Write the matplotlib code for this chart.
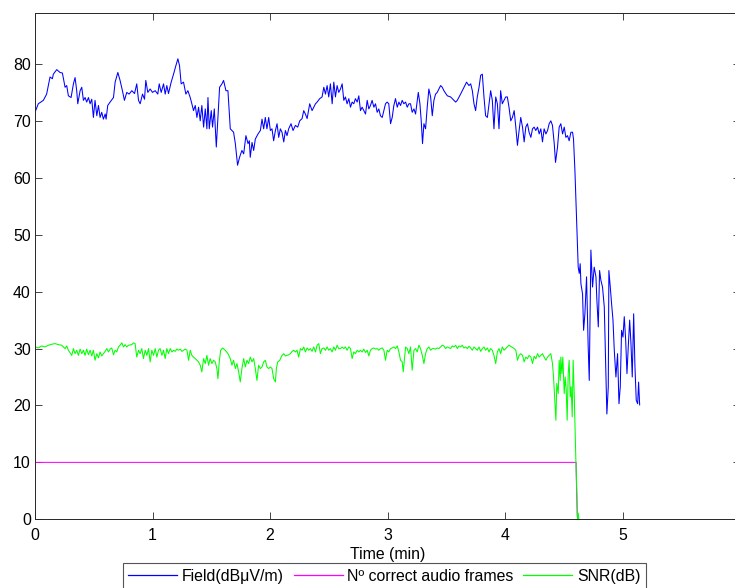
import matplotlib
matplotlib.use("Agg")
import matplotlib.pyplot as plt

# ---- data ----
field_points = [
    (0.000,71.5),(0.028,73.0),(0.071,73.6),(0.099,74.7),(0.128,77.7),(0.148,77.4),(0.156,78.2),(0.185,79.0),
    (0.213,78.5),(0.233,78.4),(0.256,75.9),(0.270,76.2),(0.284,74.4),(0.307,74.1),(0.327,76.5),(0.341,77.6),
    (0.355,75.3),(0.364,73.0),(0.384,75.3),(0.398,75.9),(0.412,73.6),(0.426,74.1),(0.440,73.3),(0.455,74.1),
    (0.469,73.0),(0.483,73.8),(0.497,70.6),(0.511,73.6),(0.526,70.9),(0.540,72.7),(0.554,70.6),(0.568,71.5),
    (0.582,70.3),(0.597,71.2),(0.605,70.3),(0.619,72.7),(0.639,73.3),(0.668,74.1),(0.682,76.8),(0.705,78.5),
    (0.724,77.1),(0.744,75.3),(0.761,73.6),(0.781,75.0),(0.801,74.7),(0.824,75.3),(0.847,74.8),(0.866,76.5),
    (0.881,73.6),(0.895,73.0),(0.915,74.7),(0.932,73.8),(0.943,77.1),(0.960,75.0),(0.980,75.6),(1.000,75.0),
    (1.023,75.3),(1.045,74.7),(1.057,76.5),(1.074,75.0),(1.094,76.5),(1.108,74.7),(1.122,76.2),(1.136,74.8),
    (1.159,76.8),(1.179,78.2),(1.199,79.7),(1.216,80.9),(1.230,79.7),(1.244,76.5),(1.264,76.8),(1.284,74.7),
    (1.301,75.3),(1.321,74.1),(1.335,73.0),(1.349,71.8),(1.364,72.7),(1.378,70.6),(1.392,72.4),(1.406,70.0),
    (1.420,72.7),(1.435,68.9),(1.449,72.1),(1.463,68.6),(1.472,74.1),(1.483,68.6),(1.500,71.8),(1.511,68.9),
    (1.526,72.1),(1.543,65.4),(1.557,70.6),(1.571,75.9),(1.591,76.5),(1.605,77.1),(1.625,75.3),(1.642,75.3),
    (1.662,68.6),(1.690,68.0),(1.705,66.0),(1.724,62.2),(1.741,63.6),(1.761,64.8),(1.776,64.2),(1.795,67.4),
    (1.813,66.0),(1.824,66.5),(1.832,63.6),(1.847,66.2),(1.861,64.8),(1.875,66.8),(1.898,67.7),(1.918,68.3),
    (1.932,70.3),(1.946,68.6),(1.960,70.6),(1.974,68.6),(1.989,70.6),
    (2.003,68.3),(2.017,68.6),(2.031,66.5),(2.046,68.3),(2.060,69.5),(2.074,67.1),(2.088,68.6),(2.102,68.0),
    (2.117,66.3),(2.131,68.3),(2.145,67.4),(2.159,68.6),(2.179,69.5),(2.196,68.3),(2.216,69.2),(2.236,68.9),
    (2.253,70.0),(2.273,70.4),(2.287,71.8),(2.301,71.2),(2.316,70.4),(2.338,73.0),(2.358,71.8),(2.372,72.4),
    (2.387,73.0),(2.401,73.3),(2.423,73.9),(2.443,74.2),(2.458,75.9),(2.472,74.7),(2.486,76.2),(2.500,74.2),
    (2.514,76.5),(2.529,73.0),(2.543,76.8),(2.557,74.2),(2.571,76.2),(2.585,75.0),(2.600,75.6),(2.614,76.5),
    (2.628,73.6),(2.642,74.2),(2.656,73.0),(2.671,73.9),(2.685,72.4),(2.699,73.3),(2.713,73.0),(2.727,73.9),
    (2.742,73.3),(2.756,74.4),(2.770,71.8),(2.784,72.4),(2.798,71.8),(2.813,71.2),(2.827,73.6),(2.841,72.1),
    (2.855,72.7),(2.869,73.6),(2.884,72.4),(2.898,73.0),(2.912,71.5),(2.926,72.1),(2.940,70.9),(2.955,70.6),
    (2.969,71.8),(2.983,73.0),(2.997,73.3),(3.011,73.0),(3.026,69.5),(3.040,70.6),(3.054,72.7),(3.068,73.9),
    (3.083,72.4),(3.097,73.3),(3.111,72.7),(3.125,73.6),(3.139,73.0),(3.154,73.3),(3.168,72.4),(3.182,73.0),
    (3.196,73.0),(3.210,71.5),(3.225,72.1),(3.239,71.2),(3.253,73.6),(3.262,75.0),(3.276,73.0),(3.287,70.0),
    (3.298,66.0),(3.310,69.5),(3.324,68.6),(3.338,72.4),(3.352,75.6),(3.367,74.2),(3.381,70.9),(3.395,73.6),
    (3.409,74.7),(3.423,75.0),(3.438,75.6),(3.452,76.2),(3.466,75.9),(3.480,75.3),(3.509,74.4),(3.537,74.2),
    (3.566,73.6),(3.580,73.3),(3.594,73.6),(3.622,74.7),(3.651,75.9),(3.673,76.8),(3.693,76.2),(3.708,76.5),
    (3.722,75.3),(3.736,73.0),(3.750,71.8),(3.764,74.2),(3.779,75.9),(3.793,78.0),(3.807,78.2),(3.821,74.2),
    (3.835,70.9),(3.850,70.6),(3.864,73.0),(3.878,75.3),(3.892,73.6),(3.906,68.6),(3.921,74.2),(3.935,73.0),
    (3.949,68.6),(3.963,75.3),(3.977,73.0),(3.992,73.6),(4.006,74.2),(4.020,74.2),(4.034,72.4),
    (4.049,70.0),(4.063,70.6),(4.078,71.8),(4.092,68.9),(4.106,65.7),(4.120,68.3),(4.134,70.6),(4.149,68.9),
    (4.163,66.3),(4.177,68.9),(4.191,69.5),(4.205,68.0),(4.220,67.1),(4.234,68.6),(4.248,68.9),(4.262,68.3),
    (4.277,68.9),(4.291,67.7),(4.305,68.6),(4.319,66.3),(4.333,68.6),(4.348,67.7),(4.362,68.3),(4.376,69.5),
    (4.390,70.0),(4.404,69.2),(4.419,66.0),(4.430,62.7),(4.447,65.4),(4.461,68.9),(4.475,69.5),(4.490,67.7),
    (4.504,68.9),(4.518,67.1),(4.532,67.4),(4.546,66.5),(4.561,68.0),(4.575,68.0),(4.583,66.8),(4.595,61.3),
    (4.603,56.6),(4.612,51.3),(4.623,44.3),(4.632,43.2),(4.640,44.9),(4.646,41.4),(4.660,39.6),(4.669,33.2),
    (4.680,36.1),(4.694,42.6),(4.708,30.3),(4.717,24.4),(4.731,47.3),(4.745,40.8),(4.759,44.3),(4.774,42.6),
    (4.782,38.5),(4.794,33.8),(4.805,43.7),(4.816,42.0),(4.830,40.8),(4.845,37.3),(4.859,25.0),(4.867,18.5),
    (4.879,23.3),(4.884,43.7),(4.896,40.8),(4.907,37.9),(4.919,35.0),(4.930,29.7),(4.944,25.0),(4.958,29.1),
    (4.970,20.3),(4.981,23.3),(4.992,33.2),(5.004,32.0),(5.015,35.6),(5.027,31.5),(5.038,25.6),(5.049,30.3),
    (5.061,35.0),(5.072,30.9),(5.083,25.0),(5.095,36.1),(5.106,26.8),(5.117,20.9),(5.129,20.3),(5.137,24.1),
    (5.146,20.1),
]

snr_points = [
    (0.000,30.28),(0.028,30.11),(0.057,30.46),(0.085,30.28),(0.114,30.58),(0.142,30.75),(0.170,30.87),(0.199,30.69),
    (0.227,30.58),(0.256,29.99),(0.270,30.46),(0.284,29.7),(0.313,28.8),(0.327,29.99),(0.341,29.1),(0.355,29.7),
    (0.369,28.8),(0.384,29.9),(0.398,29.1),(0.412,29.7),(0.426,28.8),(0.440,29.9),(0.455,28.9),(0.469,29.7),
    (0.483,28.7),(0.497,29.7),(0.511,27.94),(0.526,29.1),(0.540,28.35),(0.554,29.4),(0.568,28.7),(0.582,29.1),
    (0.597,29.5),(0.611,29.99),(0.625,29.4),(0.639,29.9),(0.653,30.1),(0.668,28.9),(0.682,29.7),(0.696,29.4),
    (0.710,30.28),(0.724,30.58),(0.739,31.0),(0.753,30.28),(0.767,30.69),(0.781,30.28),(0.795,30.58),(0.824,30.69),
    (0.838,31.0),(0.852,30.87),(0.866,28.5),(0.881,29.7),(0.895,29.1),(0.909,29.99),(0.923,28.24),(0.938,29.7),
    (0.952,28.8),(0.966,29.99),(0.980,27.65),(0.994,29.7),(1.009,28.8),(1.023,29.99),(1.037,28.5),(1.051,29.7),
    (1.065,29.99),(1.080,28.8),(1.094,29.7),(1.108,28.24),(1.122,29.99),(1.136,29.1),(1.151,29.99),(1.165,29.4),
    (1.179,29.7),(1.193,29.5),(1.207,29.9),(1.222,29.7),(1.236,29.9),(1.250,29.5),(1.264,29.7),(1.278,29.9),
    (1.293,29.7),(1.307,27.94),(1.321,29.7),(1.335,28.8),(1.349,28.5),(1.364,28.24),(1.378,27.94),(1.392,27.65),
    (1.406,27.07),(1.420,25.9),(1.435,28.24),(1.449,27.36),(1.463,28.8),(1.477,27.07),(1.491,28.24),(1.506,27.36),
    (1.520,27.94),(1.534,27.65),(1.548,26.48),(1.557,24.7),(1.568,27.65),(1.580,29.7),(1.597,30.1),(1.619,29.7),
    (1.642,29.1),(1.662,28.24),(1.676,27.07),(1.690,27.94),(1.705,26.48),(1.719,27.36),(1.733,25.9),(1.747,24.14),
    (1.761,26.48),(1.776,28.24),(1.790,26.77),(1.804,27.94),(1.818,27.36),(1.832,28.5),(1.847,27.65),(1.861,28.24),
    (1.875,26.48),(1.889,24.4),(1.903,27.07),(1.918,26.48),(1.932,26.77),(1.946,27.65),(1.960,27.94),(1.974,26.77),
    (1.989,26.48),
    (2.003,26.77),(2.017,26.48),(2.031,24.7),(2.046,24.14),(2.054,26.48),(2.066,27.65),(2.083,27.94),(2.102,28.8),
    (2.117,29.1),(2.131,28.7),(2.145,28.8),(2.159,28.9),(2.173,29.1),(2.188,29.5),(2.202,29.7),(2.216,29.4),
    (2.230,29.7),(2.244,28.5),(2.259,29.99),(2.273,29.7),(2.287,30.28),(2.301,29.4),(2.316,30.1),(2.330,29.7),
    (2.344,29.99),(2.358,29.5),(2.372,30.28),(2.387,29.4),(2.401,30.58),(2.415,30.87),(2.429,29.1),(2.443,29.99),
    (2.458,30.1),(2.472,29.7),(2.486,30.28),(2.500,29.7),(2.514,29.99),(2.529,29.4),(2.543,30.28),(2.557,29.7),
    (2.571,30.58),(2.585,29.99),(2.600,29.99),(2.614,30.28),(2.628,29.99),(2.642,30.28),(2.656,29.7),(2.671,30.28),
    (2.685,29.99),(2.699,28.24),(2.713,29.4),(2.727,29.1),(2.742,29.7),(2.756,29.4),(2.770,29.7),(2.784,29.4),
    (2.798,29.9),(2.813,29.3),(2.827,29.7),(2.841,28.7),(2.855,29.7),(2.869,29.99),(2.884,30.1),(2.898,29.9),
    (2.912,29.99),(2.926,29.7),(2.940,29.99),(2.955,30.1),(2.969,29.7),(2.983,27.94),(2.997,29.7),(3.011,29.4),
    (3.026,29.99),(3.040,30.1),(3.054,30.28),(3.068,29.99),(3.083,30.46),(3.097,29.4),(3.111,27.94),(3.125,27.65),
    (3.134,25.9),(3.145,28.24),(3.154,30.28),(3.168,29.99),(3.182,29.1),(3.196,30.28),(3.210,26.19),(3.225,29.7),
    (3.239,29.99),(3.253,29.4),(3.267,30.58),(3.281,29.99),(3.296,28.8),(3.310,27.36),(3.324,29.1),(3.338,29.99),
    (3.352,30.28),(3.367,29.7),(3.381,29.99),(3.395,29.99),(3.409,29.9),(3.423,30.1),(3.438,29.99),(3.452,30.28),
    (3.466,30.58),(3.480,30.46),(3.494,29.99),(3.509,30.28),(3.537,29.99),(3.551,30.46),(3.566,30.28),(3.580,30.58),
    (3.594,29.99),(3.608,30.46),(3.622,30.28),(3.636,30.58),(3.651,30.1),(3.665,30.28),(3.679,29.99),(3.693,30.4),
    (3.708,30.1),(3.722,29.7),(3.736,30.28),(3.750,29.99),(3.764,29.7),(3.779,30.28),(3.793,29.5),(3.807,29.99),
    (3.821,30.28),(3.835,29.7),(3.850,30.1),(3.864,29.4),(3.878,29.99),(3.892,29.7),(3.906,28.8),(3.921,27.36),
    (3.935,29.4),(3.949,29.99),(3.963,29.1),(3.977,30.28),(3.992,29.7),(4.006,29.99),(4.020,30.28),(4.034,30.58),
    (4.078,30.0),(4.092,29.7),(4.106,27.95),(4.120,28.8),(4.134,29.1),(4.149,28.8),(4.163,27.66),(4.177,28.5),
    (4.191,28.2),(4.205,28.8),(4.220,28.5),(4.234,27.37),(4.248,28.65),(4.262,28.2),(4.277,29.1),(4.291,28.5),
    (4.305,28.8),(4.319,29.1),(4.333,28.5),(4.348,27.95),(4.362,28.5),(4.376,28.8),(4.390,29.1),(4.404,27.37),
    (4.413,25.0),(4.424,20.9),(4.433,17.4),(4.441,23.9),(4.453,22.1),(4.461,27.95),(4.470,24.4),(4.475,28.5),
    (4.484,25.6),(4.492,28.5),(4.504,22.1),(4.512,25.0),(4.521,22.7),(4.529,17.4),(4.538,25.6),(4.546,27.95),
    (4.555,21.5),(4.563,23.3),(4.572,18.0),(4.580,27.95),(4.589,22.1),(4.595,16.8),(4.603,10.4),(4.612,4.6),
    (4.617,0.0),(4.623,1.1),(4.629,0.0),
]

frames_time = [0.0, 4.605, 4.607, 4.615, 4.620]
frames_count = [10, 10, 7.2, 0.5, 0]

x_ticks = [0, 1, 2, 3, 4, 5]
y_ticks = [0, 10, 20, 30, 40, 50, 60, 70, 80]
series_labels = ["Field(dBμV/m)", "Nº correct audio frames", "SNR(dB)"]
x_label = "Time (min)"

field_time = [p[0] for p in field_points]
field_db = [p[1] for p in field_points]
snr_time = [p[0] for p in snr_points]
snr_db = [p[1] for p in snr_points]

FS = 11.4
plt.rcParams['font.family'] = ['Liberation Sans', 'DejaVu Sans']
plt.rcParams['font.size'] = FS

W, H = 735, 588
fig = plt.figure(figsize=(W / 100, H / 100), dpi=100)
ax = fig.add_axes([35 / W, (H - 519.3) / H, 705 / W, 506.6 / H])

LW = 0.75
ax.plot(field_time, field_db, color=(0, 0, 1), lw=LW, label=series_labels[0])
ax.plot(frames_time, frames_count, color=(1, 0, 1), lw=LW, label=series_labels[1])
ax.plot(snr_time, snr_db, color=(0, 1, 0), lw=LW, label=series_labels[2])

ax.set_xlim(0, 6)
ax.set_ylim(0, 89)
ax.set_xticks(x_ticks)
ax.set_yticks(y_ticks)
ax.tick_params(direction='in', top=True, right=True, length=5, width=0.6,
               color='#262626', labelsize=FS, labelcolor='black')
ax.tick_params(axis='x', pad=6)
ax.tick_params(axis='y', pad=3)
for s in ax.spines.values():
    s.set_linewidth(0.7)
    s.set_color('#262626')

ax.set_xlabel(x_label, fontsize=FS, labelpad=3)

leg = ax.legend(loc='upper center', ncol=3, frameon=True, fancybox=False,
                fontsize=FS, handlelength=3.1, handletextpad=0.3, columnspacing=0.6,
                borderpad=0.35, borderaxespad=0)
leg.set_bbox_to_anchor((0.523, (H - 563) / H), transform=fig.transFigure)
for h in leg.get_lines():
    h.set_linewidth(0.9)
fr = leg.get_frame()
fr.set_edgecolor('#555555')
fr.set_linewidth(0.8)
fr.set_alpha(1)

fig.savefig('out.png', dpi=100)
